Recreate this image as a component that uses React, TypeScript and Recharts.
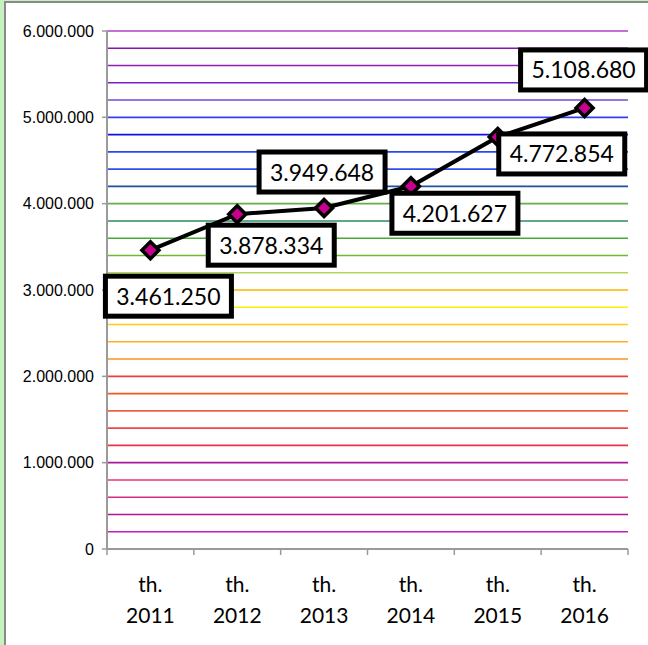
import React from 'react';
import { LineChart, Line, XAxis, YAxis, ReferenceLine, LabelList } from 'recharts';

const years = ['th. 2011', 'th. 2012', 'th. 2013', 'th. 2014', 'th. 2015', 'th. 2016'];
const revenue = [3461250, 3878334, 3949648, 4201627, 4772854, 5108680];
const yTicks = [0, 1000000, 2000000, 3000000, 4000000, 5000000, 6000000];

// coloured horizontal lines, every 200.000, bottom to top
const gridValues = [
  200000, 400000, 600000, 800000, 1000000, 1200000, 1400000, 1600000, 1800000, 2000000,
  2200000, 2400000, 2600000, 2800000, 3000000, 3200000, 3400000, 3600000, 3800000, 4000000,
  4200000, 4400000, 4600000, 4800000, 5000000, 5200000, 5400000, 5600000, 5800000, 6000000,
];
const gridColors = [
  '#c020b8', '#b81090', '#d82a84', '#f0307a', '#a8189a', '#f03048', '#f04848', '#f06040', '#f05a1e', '#f03c3c',
  '#ff9020', '#ffb020', '#ffcc10', '#f8f000', '#ffb400', '#b0d858', '#70b82c', '#4aa838', '#2e8a5e', '#62b048',
  '#2050a0', '#3050e8', '#2848f0', '#1010e0', '#3040f0', '#7848d0', '#7a20c8', '#9020b0', '#9010b0', '#b040c8',
];

// where each value box sits relative to its point
const labelOffsets = [[18, 46], [34, 31], [-2, -36], [44, 27], [64, 17], [-1, -38]];

const data = years.map((year, i) => ({ year, value: revenue[i] }));

const W = 648;
const H = 645;
const PLOT_LEFT = 107;
const PLOT_RIGHT = 628;
const HALF_BAND = (PLOT_RIGHT - PLOT_LEFT) / years.length / 2;
const LABEL_FONT = "Lato, 'Open Sans', sans-serif";

const dots = (v: number) => String(v).replace(/\B(?=(\d{3})+(?!\d))/g, '.');

const Diamond = (props: any) => {
  const { cx, cy } = props;
  if (cx == null || cy == null) return null;
  const r = 8.5;
  return (
    <path
      d={`M${cx},${cy - r} L${cx + r},${cy} L${cx},${cy + r} L${cx - r},${cy} Z`}
      fill="#c8008e"
      stroke="#000"
      strokeWidth={3.5}
    />
  );
};

const ValueBox = (props: any) => {
  const { x, y, value, index } = props;
  const [dx, dy] = labelOffsets[index] || [0, 0];
  const cx = x + dx;
  const cy = y + dy;
  return (
    <g>
      <rect x={cx - 63} y={cy - 20} width={126} height={40} fill="#fff" stroke="#000" strokeWidth={5} />
      <text x={cx} y={cy + 8.5} textAnchor="middle" fontFamily={LABEL_FONT} fontSize={23} fill="#000">
        {dots(value)}
      </text>
    </g>
  );
};

const XTick = (props: any) => {
  const { x, y, payload, index } = props;
  const [a, b] = String(payload.value).split(' ');
  return (
    <g>
      <line x1={x + HALF_BAND} y1={y} x2={x + HALF_BAND} y2={y + 6} stroke="#9a9a9a" strokeWidth={1.5} />
      {index === 0 && <line x1={x - HALF_BAND} y1={y} x2={x - HALF_BAND} y2={y + 6} stroke="#9a9a9a" strokeWidth={1.5} />}
      <text x={x} y={y + 43} textAnchor="middle" fontFamily={LABEL_FONT} fontSize={21} fill="#000">{a}</text>
      <text x={x} y={y + 74} textAnchor="middle" fontFamily={LABEL_FONT} fontSize={21} fill="#000">{b}</text>
    </g>
  );
};

const YTick = (props: any) => {
  const { x, y, payload } = props;
  return (
    <text x={x} y={y} dy="0.36em" textAnchor="end" fontFamily="'Liberation Sans', Arial, sans-serif" fontSize={16} fill="#000">
      {dots(payload.value)}
    </text>
  );
};

export default function App() {
  return (
    <div style={{ position: 'absolute', left: 0, top: 0, width: W, height: H, background: '#c6f2c0', overflow: 'hidden' }}>
      <div style={{ position: 'absolute', left: 4, top: 1, width: 700, height: 700, border: '2px solid #8a8a8a', background: '#fff' }} />
      <div style={{ position: 'absolute', left: 0, top: 0 }}>
        <LineChart width={W} height={H} data={data} margin={{ top: 31, right: W - PLOT_RIGHT, bottom: 16, left: 7 }}>
          <XAxis
            dataKey="year"
            height={80}
            padding={{ left: HALF_BAND, right: HALF_BAND }}
            axisLine={{ stroke: '#9a9a9a', strokeWidth: 2 }}
            tickLine={false}
            tickSize={0}
            tickMargin={0}
            interval={0}
            tick={<XTick />}
          />
          <YAxis
            width={100}
            domain={[0, 6000000]}
            ticks={yTicks}
            interval={0}
            axisLine={{ stroke: '#9a9a9a', strokeWidth: 2 }}
            tickLine={{ stroke: '#9a9a9a', strokeWidth: 1.5 }}
            tickSize={5}
            tickMargin={8}
            tick={<YTick />}
          />
          {gridValues.map((v, i) => (
            <ReferenceLine key={v} y={v} stroke={gridColors[i]} strokeWidth={1.6} />
          ))}
          <Line
            dataKey="value"
            stroke="#000"
            strokeWidth={4}
            dot={<Diamond />}
            activeDot={false}
            isAnimationActive={false}
          >
            <LabelList dataKey="value" content={<ValueBox />} />
          </Line>
        </LineChart>
      </div>
    </div>
  );
}
